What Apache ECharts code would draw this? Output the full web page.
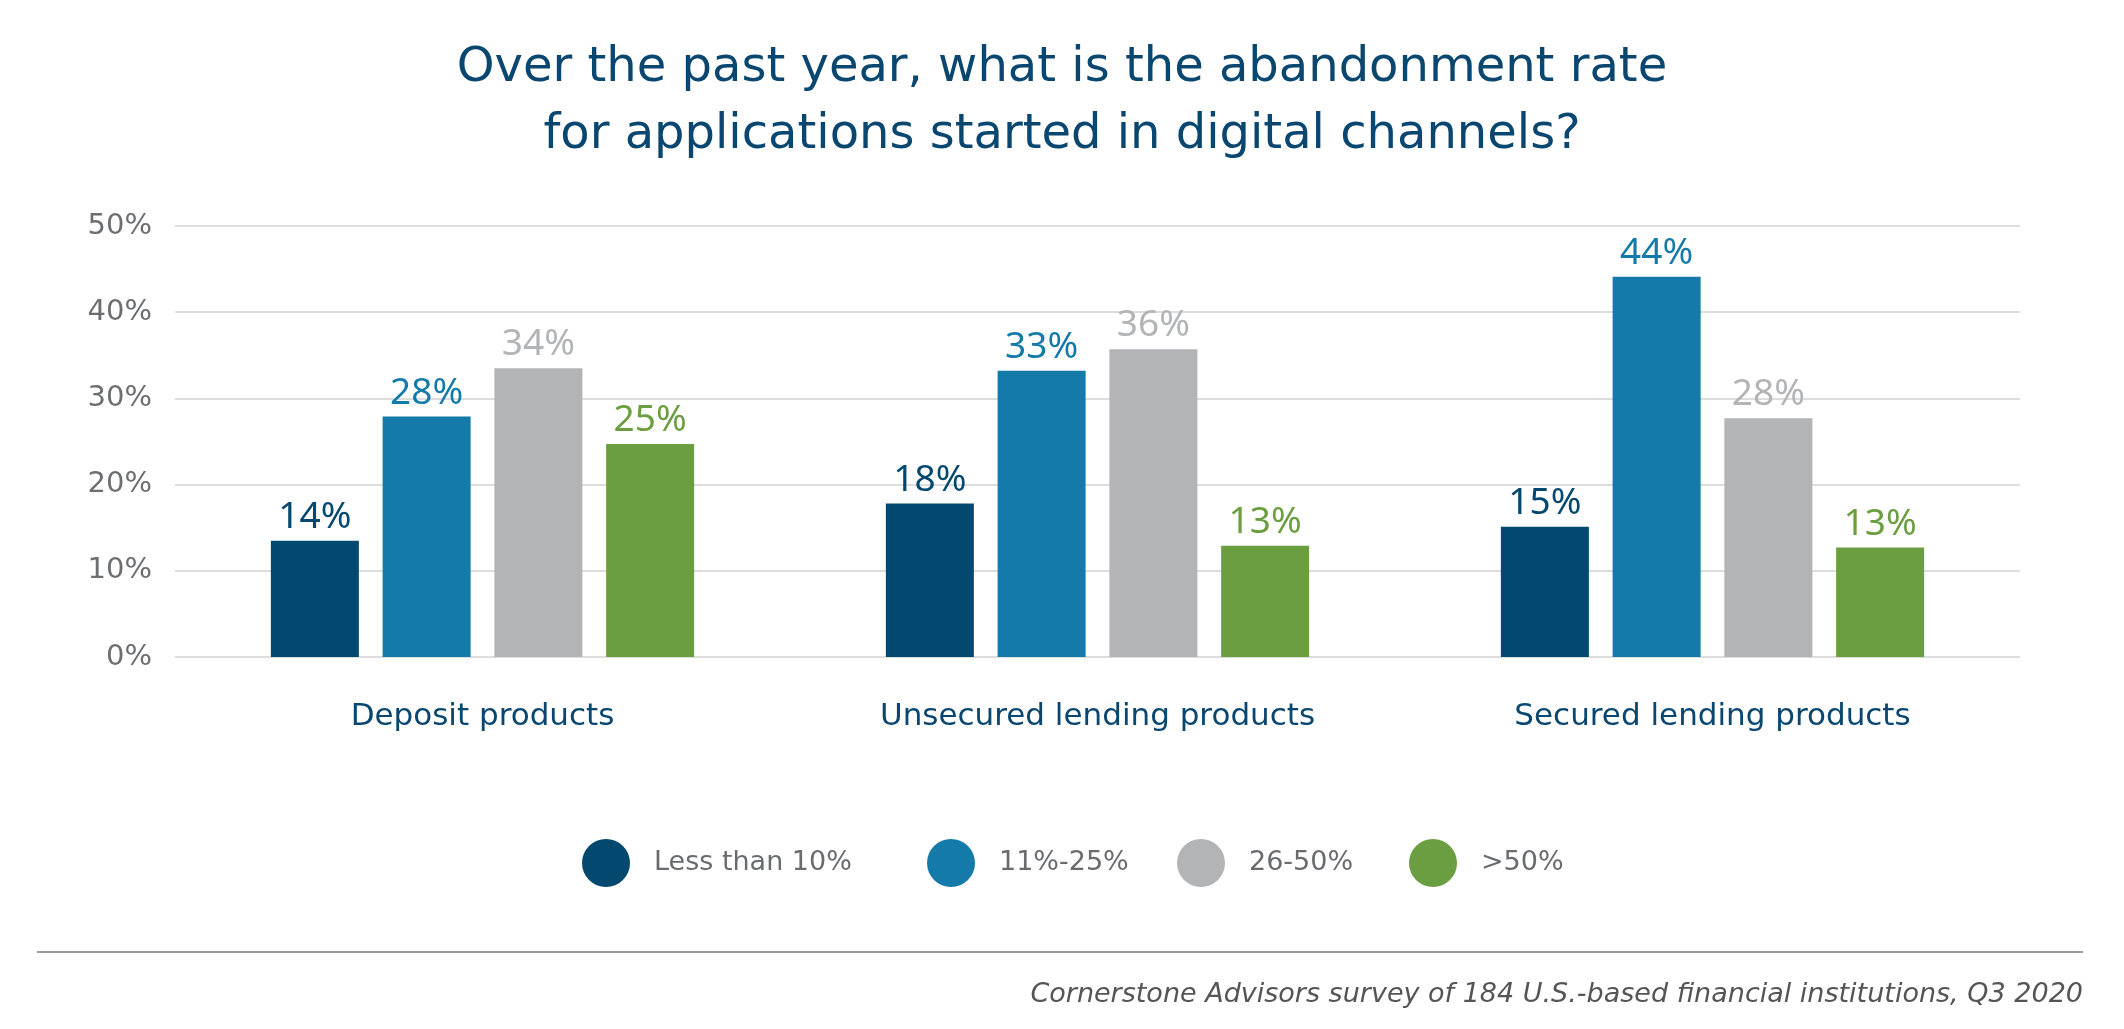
<!DOCTYPE html>
<html>
<head>
<meta charset="utf-8">
<script src="https://cdn.jsdelivr.net/npm/echarts@6/dist/echarts.min.js"></script>
<style>
html,body{margin:0;padding:0;background:#fff;}
#chart{width:2124px;height:1029px;}
</style>
</head>
<body>
<div id="chart"></div>
<script>
var categories = ['Deposit products', 'Unsecured lending products', 'Secured lending products'];
var seriesNames = ['Less than 10%', '11%-25%', '26-50%', '>50%'];
var lessThan10 = [13.5, 17.8, 15.1];
var from11to25 = [27.9, 33.2, 44.1];
var from26to50 = [33.5, 35.7, 27.7];
var over50 = [24.7, 12.9, 12.7];
var yTicks = [0, 10, 20, 30, 40, 50];
var colors = ['#02486f', '#147aa9', '#b3b4b6', '#6a9e40'];
var titleText = 'Over the past year, what is the abandonment rate\nfor applications started in digital channels?';
var sourceText = 'Cornerstone Advisors survey of 184 U.S.-based financial institutions, Q3 2020';

var FONT = '"DejaVu Sans", "Noto Sans", sans-serif';
var NUMFONT = '"Noto Sans", "Open Sans", sans-serif';
var chart = echarts.init(document.getElementById('chart'));
var allData = [lessThan10, from11to25, from26to50, over50];

var series = allData.map(function (d, i) {
  return {
    name: seriesNames[i],
    type: 'bar',
    data: d,
    barWidth: 88,
    barGap: '27%',
    itemStyle: { color: colors[i] },
    label: {
      show: true,
      position: 'top',
      distance: 5,
      fontFamily: NUMFONT,
      fontSize: 37,
      color: colors[i],
      formatter: function (p) { return Math.round(p.value) + '%'; }
    }
  };
});

var legendLefts = [577, 922, 1172, 1404];
var legends = seriesNames.map(function (n, i) {
  return {
    data: [n],
    left: legendLefts[i],
    top: 834,
    icon: 'circle',
    itemWidth: 48,
    itemHeight: 48,
    textStyle: {
      fontFamily: FONT,
      fontSize: 27,
      fontWeight: 'normal',
      color: '#6a6b6e',
      padding: [0, 0, 0, 19]
    }
  };
});

chart.setOption({
  backgroundColor: '#ffffff',
  animation: false,
  title: {
    text: titleText,
    left: 'center',
    top: 30,
    textStyle: {
      fontFamily: FONT,
      fontSize: 48,
      fontWeight: 'normal',
      color: '#0a4770',
      lineHeight: 67,
      align: 'center'
    }
  },
  grid: { left: 175, right: 104, top: 226, bottom: 372, containLabel: false },
  legend: legends,
  xAxis: {
    type: 'category',
    data: categories,
    axisLine: { show: false },
    axisTick: { show: false },
    axisLabel: {
      margin: 44,
      fontFamily: FONT,
      fontSize: 31,
      color: '#0a4770'
    }
  },
  yAxis: {
    type: 'value',
    min: 0,
    max: 50,
    interval: 10,
    axisLine: { show: false },
    axisTick: { show: false },
    axisLabel: {
      margin: 23,
      fontFamily: FONT,
      fontSize: 29,
      color: '#6d6e71',
      formatter: function (v) { return yTicks.indexOf(v) >= 0 ? v + '%' : ''; }
    },
    splitLine: { lineStyle: { color: '#dddddd', width: 2 } }
  },
  series: series,
  graphic: [
    {
      type: 'line',
      shape: { x1: 37, y1: 952, x2: 2083, y2: 952 },
      style: { stroke: '#9a9a9a', lineWidth: 2 }
    },
    {
      type: 'text',
      x: 2083,
      y: 995,
      style: {
        text: sourceText,
        align: 'right',
        verticalAlign: 'middle',
        fontFamily: FONT,
        fontSize: 27,
        fontStyle: 'italic',
        fill: '#555555'
      }
    }
  ]
});
</script>
</body>
</html>
